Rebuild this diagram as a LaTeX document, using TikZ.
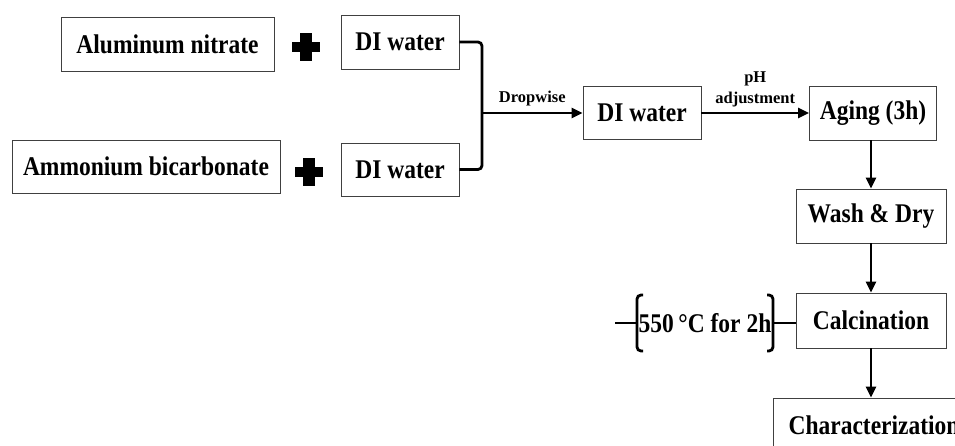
\documentclass[tikz,border=0pt]{standalone}
\usepackage{fontspec}
\setmainfont{Liberation Serif}[FakeStretch=0.87]
\newfontfamily\lblfont{Liberation Serif}
\usetikzlibrary{arrows.meta}
\begin{document}
\begin{tikzpicture}[x=1pt,y=-1pt,
  box/.style={draw=black!75, line width=0.9pt, inner sep=0pt, minimum height=54pt,
    font=\fontsize{27}{32}\selectfont\bfseries},
  lbl/.style={inner sep=0pt, font=\lblfont\fontsize{16.5}{21}\selectfont\bfseries, align=center},
  flow/.style={line width=2.6pt, -{Triangle[length=11pt,width=10pt]}},
  brk/.style={line width=2.8pt, rounded corners=4pt},
  plussign/.style={minimum width=28pt, minimum height=28pt, inner sep=0pt,
    path picture={
      \fill ([xshift=-14pt,yshift=-5pt]path picture bounding box.center) rectangle ++(28,-10);
      \fill ([xshift=-6pt,yshift=-14pt]path picture bounding box.center) rectangle ++(12,-28);
    }}]
\useasboundingbox (0,0) rectangle (955,446);
\clip (0,0) rectangle (955,446);

\node[box, minimum width=213pt] (an) at (167.5,44) {Aluminum nitrate};
\node[box, minimum width=118pt] (dw1) at (400,42) {DI water};
\node[box, minimum width=268pt, minimum height=53pt] (ab) at (146,166.5) {Ammonium bicarbonate};
\node[box, minimum width=118pt, minimum height=53pt] (dw2) at (400,169.5) {DI water};
\node[plussign] (p1) at (306,47) {};
\node[plussign] (p2) at (309,172) {};

\node[box, minimum width=118pt, minimum height=53pt] (dw3) at (642,113) {DI water};
\node[box, minimum width=127pt] (aging) at (873,113) {Aging (3h)};
\node[box, minimum width=150pt] (wash) at (871,216) {Wash \& Dry};
\node[box, minimum width=150pt, minimum height=55pt] (calc) at (871,320.5) {Calcination};
\node[box, minimum width=202pt] (char) at (874,425) {Characterization};

\node[box, draw=none, minimum height=0pt] (temp) at (705,323) {550\,°C for 2h};

\coordinate (j) at (482,113);
\draw[brk] (dw1.east) -- (j |- dw1.east) -- (j |- dw2.east) -- (dw2.east);
\draw[flow] (j) -- (dw3.west) node[lbl, midway, above=6pt] (dw) {Dropwise};
\draw[flow] (dw3.east) -- (aging.west) node[lbl, midway, above=5pt] (ph) {pH\\adjustment};
\draw[flow] (aging.south -| wash.north) -- (wash.north);
\draw[flow] (wash.south) -- (calc.north);
\draw[flow] (calc.south) -- (calc.south |- char.north);

% temperature bracket
\coordinate (lb) at (637,323);
\coordinate (rb) at (773,323);
\coordinate (tl) at (615,323);
\draw[brk] ([xshift=6pt]lb |- 0,295) -- (lb |- 0,295) -- (lb |- 0,351) -- ([xshift=6pt]lb |- 0,351);
\draw[brk] ([xshift=-6pt]rb |- 0,295) -- (rb |- 0,295) -- (rb |- 0,351) -- ([xshift=-6pt]rb |- 0,351);
\draw[line width=2.2pt] (tl) -- (lb);
\draw[line width=2.2pt] (rb) -- (calc.west |- rb);
\end{tikzpicture}
\end{document}
